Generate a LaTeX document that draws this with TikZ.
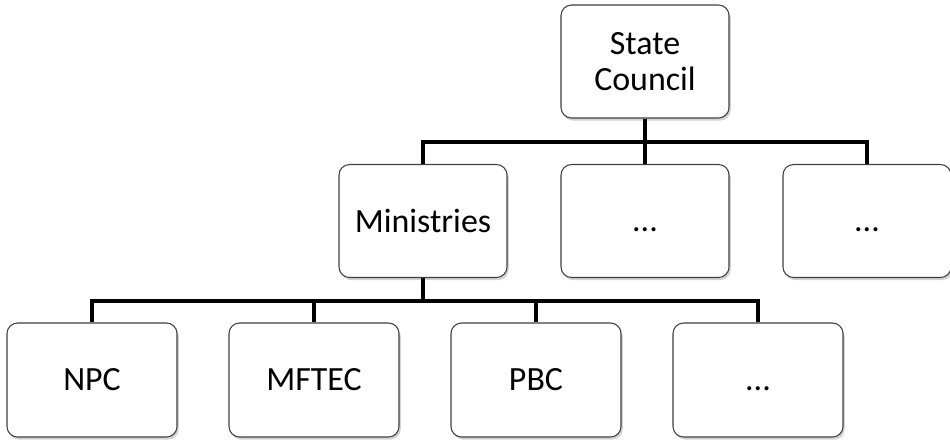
\documentclass[tikz,border=0pt]{standalone}
\usepackage{fontspec}
\setmainfont{Carlito}
\usetikzlibrary{shadows}

\begin{document}
\begin{tikzpicture}[
  box/.style={rectangle, rounded corners=6pt, draw=black!75, line width=0.6pt, fill=white,
    drop shadow={opacity=0.35, shadow xshift=1pt, shadow yshift=-1.5pt},
    minimum width=3.36cm, minimum height=2.26cm, align=center,
    font=\fontsize{19.3}{20.5}\selectfont},
  lowbox/.style={box, minimum width=3.4cm, minimum height=2.28cm},
  link/.style={black, line width=2.2pt, line join=miter}]

\useasboundingbox (0,0) rectangle (19,-8.86);

\node[box] (SC) at (12.9,-1.23) {State\\Council};

\node[box] (Min) at (8.46,-4.42) {Ministries};
\node[box] (dotsA) at (12.9,-4.42) {\vphantom{M}...};
\node[box] (dotsB) at (17.34,-4.42) {\vphantom{M}...};

\node[lowbox] (NPC) at (1.84,-7.6) {NPC};
\node[lowbox] (MFTEC) at (6.28,-7.6) {MFTEC};
\node[lowbox] (PBC) at (10.72,-7.6) {PBC};
\node[lowbox] (dotsC) at (15.16,-7.6) {\vphantom{M}...};

\coordinate (hubA) at (12.9,-2.84);
\coordinate (hubB) at (8.46,-6.02);

\draw[link] (SC.south) -- (hubA);
\draw[link] (Min.north) |- (hubA) -| (dotsB.north);
\draw[link] (hubA) -- (dotsA.north);

\draw[link] (Min.south) -- (hubB);
\draw[link] (NPC.north) |- (hubB) -| (dotsC.north);
\draw[link] (MFTEC.north) -- (MFTEC.north |- hubB);
\draw[link] (PBC.north) -- (PBC.north |- hubB);

\end{tikzpicture}
\end{document}
